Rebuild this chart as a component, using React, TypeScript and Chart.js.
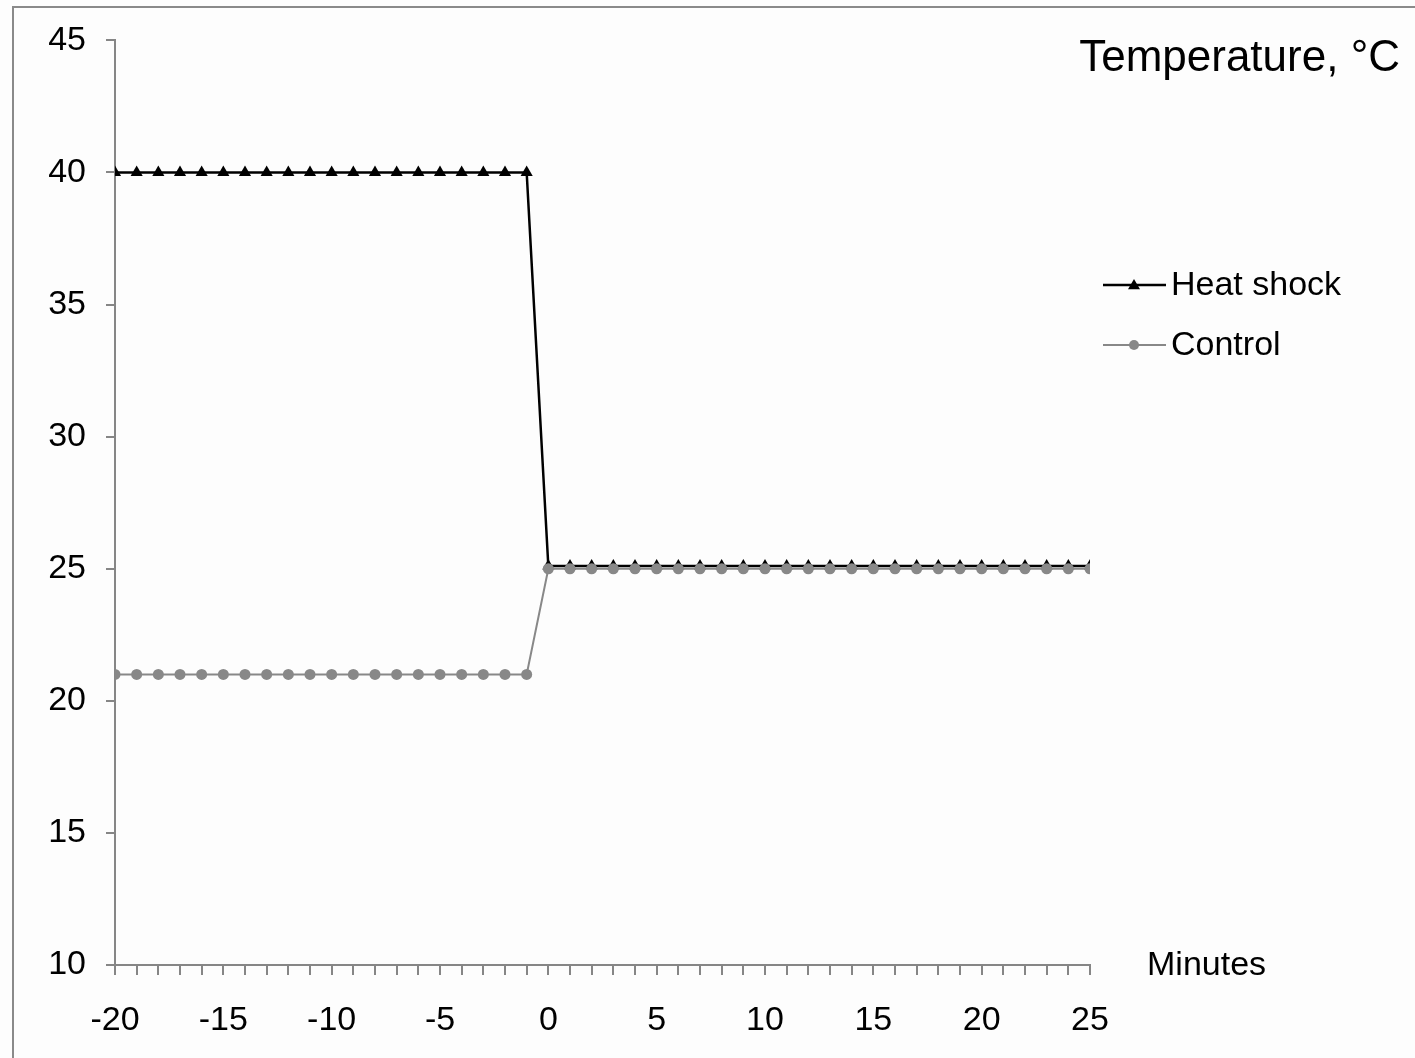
import React, { useEffect, useRef } from "react";
import { Chart, registerables } from "chart.js";

Chart.register(...registerables);

const minutes: number[] = [
  -20, -19, -18, -17, -16, -15, -14, -13, -12, -11, -10, -9, -8, -7, -6, -5, -4, -3, -2, -1,
  0, 1, 2, 3, 4, 5, 6, 7, 8, 9, 10, 11, 12, 13, 14, 15, 16, 17, 18, 19, 20, 21, 22, 23, 24, 25,
];
const heatShock: number[] = [
  40, 40, 40, 40, 40, 40, 40, 40, 40, 40, 40, 40, 40, 40, 40, 40, 40, 40, 40, 40,
  25.1, 25.1, 25.1, 25.1, 25.1, 25.1, 25.1, 25.1, 25.1, 25.1, 25.1, 25.1, 25.1, 25.1, 25.1, 25.1, 25.1, 25.1, 25.1, 25.1, 25.1, 25.1, 25.1, 25.1, 25.1, 25.1,
];
const control: number[] = [
  21, 21, 21, 21, 21, 21, 21, 21, 21, 21, 21, 21, 21, 21, 21, 21, 21, 21, 21, 21,
  25, 25, 25, 25, 25, 25, 25, 25, 25, 25, 25, 25, 25, 25, 25, 25, 25, 25, 25, 25, 25, 25, 25, 25, 25, 25,
];
const seriesNames: string[] = ["Heat shock", "Control"];
const titleText = "Temperature, °C";
const xAxisTitle = "Minutes";

const FONT = "'Liberation Sans', Arial, sans-serif";

const decorPlugin = {
  id: "decor",
  beforeDraw(chart: any) {
    const ctx = chart.ctx;
    ctx.save();
    ctx.fillStyle = "#fdfdfd";
    ctx.fillRect(0, 0, chart.width, chart.height);
    ctx.strokeStyle = "#8a8a8a";
    ctx.lineWidth = 2;
    ctx.strokeRect(13, 7, chart.width + 20, chart.height + 20);
    ctx.restore();
  },
  afterDraw(chart: any) {
    const ctx = chart.ctx;
    const area = chart.chartArea;
    ctx.save();
    // title
    ctx.fillStyle = "#000";
    ctx.font = `44px ${FONT}`;
    ctx.textAlign = "right";
    ctx.textBaseline = "middle";
    ctx.fillText(titleText, 1400, 59);
    // x axis title
    ctx.font = `34px ${FONT}`;
    ctx.textAlign = "left";
    ctx.fillText(xAxisTitle, 1147, area.bottom + 1);
    // legend
    const order = [0, 1];
    order.forEach((di, k) => {
      const ds = chart.data.datasets[di];
      const y = 285 + k * 60;
      ctx.strokeStyle = ds.borderColor;
      ctx.lineWidth = ds.borderWidth;
      ctx.beginPath();
      ctx.moveTo(1103, y);
      ctx.lineTo(1166, y);
      ctx.stroke();
      ctx.fillStyle = ds.pointBackgroundColor;
      ctx.beginPath();
      if (ds.pointStyle === "triangle") {
        const r = 6;
        ctx.moveTo(1134, y - r);
        ctx.lineTo(1134 + r, y + r * 0.7);
        ctx.lineTo(1134 - r, y + r * 0.7);
        ctx.closePath();
      } else {
        ctx.arc(1134, y, 5, 0, Math.PI * 2);
      }
      ctx.fill();
      ctx.fillStyle = "#000";
      ctx.font = `34px ${FONT}`;
      ctx.textAlign = "left";
      ctx.textBaseline = "middle";
      ctx.fillText(ds.label, 1171, y + 1);
    });
    ctx.restore();
  },
};

export default function App() {
  const ref = useRef<HTMLCanvasElement>(null);
  useEffect(() => {
    document.body.style.margin = "0";
    const canvas = ref.current!;
    const chart = new Chart(canvas, {
      type: "line",
      data: {
        labels: minutes,
        datasets: [
          {
            label: seriesNames[0],
            data: minutes.map((m, i) => ({ x: m, y: heatShock[i] })),
            borderColor: "#000000",
            backgroundColor: "#000000",
            pointBackgroundColor: "#000000",
            pointBorderColor: "#000000",
            pointStyle: "triangle",
            pointRadius: 7,
            pointBorderWidth: 0,
            borderWidth: 2.5,
            tension: 0,
            order: 1,
          },
          {
            label: seriesNames[1],
            data: minutes.map((m, i) => ({ x: m, y: control[i] })),
            borderColor: "#888888",
            backgroundColor: "#888888",
            pointBackgroundColor: "#888888",
            pointBorderColor: "#888888",
            pointStyle: "circle",
            pointRadius: 5.5,
            pointBorderWidth: 0,
            borderWidth: 2,
            tension: 0,
            order: 0,
          },
        ] as any,
      },
      options: {
        animation: false,
        responsive: false,
        events: [],
        layout: { padding: { left: 0, top: 40, right: 325, bottom: 0 } },
        plugins: {
          legend: { display: false },
          title: { display: false },
          tooltip: { enabled: false },
        },
        scales: {
          x: {
            type: "linear",
            min: -20,
            max: 25,
            afterFit: (s: any) => {
              s.height = 93;
            },
            afterBuildTicks: (s: any) => {
              s.ticks = minutes.map((v) => ({ value: v }));
            },
            border: { color: "#868686", width: 2 },
            grid: {
              drawOnChartArea: false,
              drawTicks: true,
              tickLength: 10,
              color: "#868686",
              lineWidth: 2,
            },
            ticks: {
              autoSkip: false,
              maxRotation: 0,
              padding: 25,
              color: "#000",
              font: { family: FONT, size: 34 },
              callback: (v: any) => (Number(v) % 5 === 0 ? String(v) : ""),
            },
          },
          y: {
            type: "linear",
            min: 10,
            max: 45,
            afterFit: (s: any) => {
              s.width = 115;
            },
            border: { color: "#868686", width: 2 },
            grid: {
              drawOnChartArea: false,
              drawTicks: true,
              tickLength: 9,
              color: "#868686",
              lineWidth: 2,
            },
            ticks: {
              stepSize: 5,
              padding: 20,
              color: "#000",
              font: { family: FONT, size: 34 },
            },
          },
        },
      },
      plugins: [decorPlugin],
    });
    return () => chart.destroy();
  }, []);
  return (
    <div style={{ width: 1415, height: 1058 }}>
      <canvas ref={ref} width={1415} height={1058} style={{ display: "block" }} />
    </div>
  );
}
